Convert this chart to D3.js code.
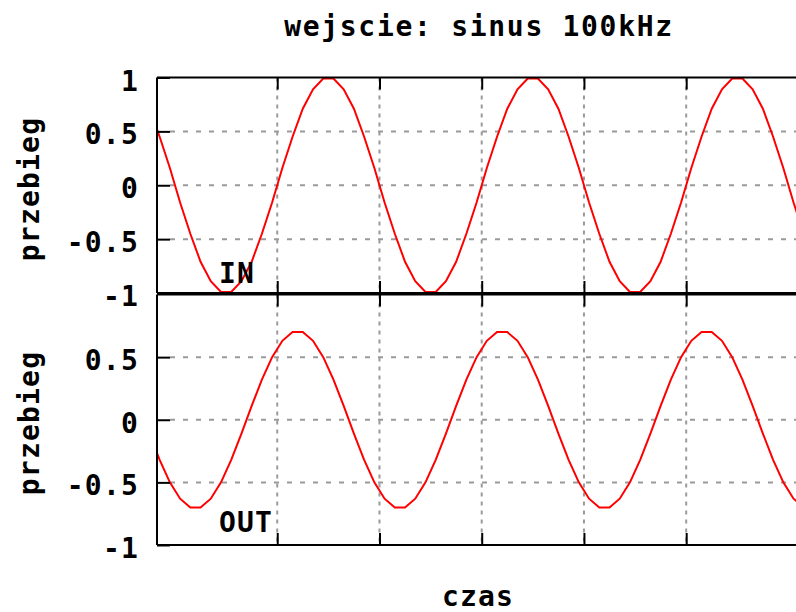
<!DOCTYPE html>
<html><head><meta charset="utf-8">
<script src="https://cdn.jsdelivr.net/npm/d3@7"></script>
<style>
body{margin:0;background:#fff}
svg{display:block}
text{font-family:"DejaVu Sans Mono",monospace;font-weight:bold;font-size:28px;letter-spacing:1.2px;fill:#000}
text.title{letter-spacing:1.7px}
</style></head><body>
<svg id="c" width="796" height="612"></svg>
<script>
const title = "wejscie: sinus 100kHz";
const xLabel = "czas";
const yLabel = "przebieg";
const panelNames = ["IN", "OUT"];

// time (µs) of the sample points
const time = [-1.25,-0.75,-0.25,0.25,0.75,1.25,1.75,2.25,2.75,3.25,3.75,4.25,4.75,5.25,5.75,6.25,6.75,7.25,7.75,8.25,8.75,9.25,9.75,10.25,10.75,11.25,11.75,12.25,12.75,13.25,13.75,14.25,14.75,15.25,15.75,16.25,16.75,17.25,17.75,18.25,18.75,19.25,19.75,20.25,20.75,21.25,21.75,22.25,22.75,23.25,23.75,24.25,24.75,25.25,25.75,26.25,26.75,27.25,27.75,28.25,28.75,29.25,29.75,30.25,30.75];

// IN waveform (top panel)
const inputSignal = [0.71,0.45,0.16,
 -0.16,-0.45,-0.71,-0.89,-0.99,-0.99,-0.89,-0.71,-0.45,-0.16,0.16,0.45,0.71,0.89,0.99,0.99,0.89,0.71,0.45,0.16,
 -0.16,-0.45,-0.71,-0.89,-0.99,-0.99,-0.89,-0.71,-0.45,-0.16,0.16,0.45,0.71,0.89,0.99,0.99,0.89,0.71,0.45,0.16,
 -0.16,-0.45,-0.71,-0.89,-0.99,-0.99,-0.89,-0.71,-0.45,-0.16,0.16,0.45,0.71,0.89,0.99,0.99,0.89,0.71,0.45,0.16,
 -0.16,-0.45];

// OUT waveform (bottom panel)
const outputSignal = [
 -0.11,-0.32,-0.50,-0.63,-0.70,-0.70,-0.63,-0.50,-0.32,-0.11,0.11,0.32,0.50,0.63,0.70,0.70,0.63,0.50,0.32,0.11,
 -0.11,-0.32,-0.50,-0.63,-0.70,-0.70,-0.63,-0.50,-0.32,-0.11,0.11,0.32,0.50,0.63,0.70,0.70,0.63,0.50,0.32,0.11,
 -0.11,-0.32,-0.50,-0.63,-0.70,-0.70,-0.63,-0.50,-0.32,-0.11,0.11,0.32,0.50,0.63,0.70,0.70,0.63,0.50,0.32,0.11,
 -0.11,-0.32,-0.50,-0.63,-0.70];

const xDomain = [-0.88, 30.37];
const xTicks = [5, 10, 15, 20, 25];
const yDomain = [-1, 1];
const yTicksTop = [-1, -0.5, 0, 0.5, 1];
const yTicksBottom = [-1, -0.5, 0, 0.5];
const yGrid = [-0.5, 0, 0.5];

const svg = d3.select("#c");
const left = 157, right = 796;
const x = d3.scaleLinear().domain(xDomain).range([left, right]);

const panels = [
  {name: panelNames[0], data: inputSignal, top: 77.5, bottom: 293, ticks: yTicksTop, labelY: 189, nameY: 283},
  {name: panelNames[1], data: outputSignal, top: 294.5, bottom: 545, ticks: yTicksBottom, labelY: 423, nameY: 532}
];

panels.forEach((p, i) => {
  const y = d3.scaleLinear().domain(yDomain).range([p.bottom, p.top]);
  const g = svg.append("g");

  // horizontal grid
  g.selectAll("line.hg").data(yGrid).join("line")
    .attr("x1", left + 13).attr("x2", right)
    .attr("y1", d => y(d)).attr("y2", d => y(d))
    .attr("stroke", "#9a9a9a").attr("stroke-width", 2).attr("stroke-dasharray", "5,8");
  // vertical grid
  g.selectAll("line.vg").data(xTicks).join("line")
    .attr("x1", d => x(d)).attr("x2", d => x(d))
    .attr("y1", p.top).attr("y2", p.bottom)
    .attr("stroke", "#9a9a9a").attr("stroke-width", 2).attr("stroke-dasharray", "4,5");

  // clip
  const cid = "clip" + i;
  svg.append("clipPath").attr("id", cid).append("rect")
    .attr("x", left).attr("y", p.top - 2).attr("width", right - left).attr("height", p.bottom - p.top + 4);

  const line = d3.line().x((d, k) => x(time[k])).y(d => y(d));
  g.append("path").datum(p.data)
    .attr("clip-path", `url(#${cid})`)
    .attr("fill", "none").attr("stroke", "#ff0000").attr("stroke-width", 2)
    .attr("d", line);

  // y axis
  const ya = d3.axisLeft(y).tickValues(p.ticks).tickFormat(d => d3.format("")(d).replace("\u2212", "-"))
    .tickSizeInner(-13).tickSizeOuter(0).tickPadding(20);
  const yg = svg.append("g").attr("transform", `translate(${left},0)`).call(ya);
  yg.select(".domain").remove();
  yg.selectAll(".tick line").attr("stroke", "#000").attr("stroke-width", 2);
  yg.selectAll(".tick text").attr("font-family", null).attr("font-size", null)
    .attr("dy", "0.45em").attr("x", -18);

  // x ticks top / bottom of panel (no labels)
  const xt = d3.axisTop(x).tickValues(xTicks).tickFormat("").tickSizeInner(-12).tickSizeOuter(0);
  const xtg = svg.append("g").attr("transform", `translate(0,${p.top})`).call(xt);
  xtg.select(".domain").remove();
  xtg.selectAll(".tick line").attr("stroke", "#000").attr("stroke-width", 2);
  const xb = d3.axisBottom(x).tickValues(xTicks).tickFormat("").tickSizeInner(-12).tickSizeOuter(0);
  const xbg = svg.append("g").attr("transform", `translate(0,${p.bottom})`).call(xb);
  xbg.select(".domain").remove();
  xbg.selectAll(".tick line").attr("stroke", "#000").attr("stroke-width", 2);

  // borders
  [p.top, p.bottom].forEach(yy => svg.append("line")
    .attr("x1", left).attr("x2", right).attr("y1", yy).attr("y2", yy)
    .attr("stroke", "#000").attr("stroke-width", 2));
  svg.append("line").attr("x1", left).attr("x2", left).attr("y1", p.top).attr("y2", p.bottom)
    .attr("stroke", "#000").attr("stroke-width", 2);

  // y label
  svg.append("text").attr("transform", `translate(39,${p.labelY}) rotate(-90)`)
    .attr("text-anchor", "middle").text(yLabel);

  // panel name
  svg.append("text").attr("x", 219).attr("y", p.nameY).text(p.name);
});

svg.append("text").attr("class", "title").attr("x", 479).attr("y", 36).attr("text-anchor", "middle").text(title);
svg.append("text").attr("x", 478).attr("y", 606).attr("text-anchor", "middle").text(xLabel);
</script>
</body></html>
